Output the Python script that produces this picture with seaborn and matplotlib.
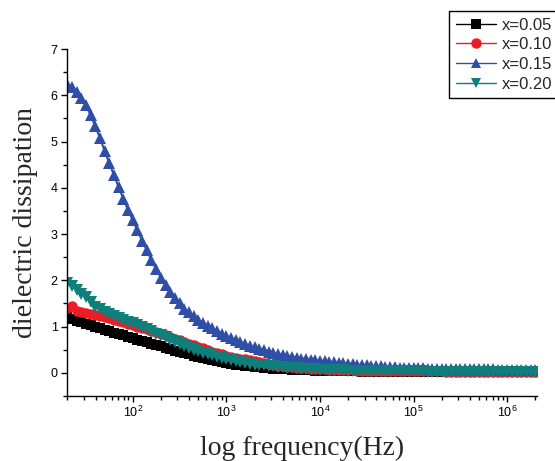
import numpy as np
import pandas as pd
import seaborn as sns
import matplotlib.pyplot as plt
from matplotlib.ticker import MultipleLocator, LogLocator, NullFormatter

# frequency sweep (Hz)
freq = [20, 22.4, 25.1, 28.2, 31.6, 35.5, 39.8, 44.7, 50.1, 56.2, 63.1, 70.8, 79.4, 89.1,
        100, 112, 126, 141, 158, 178, 200, 224, 251, 282, 316, 355, 398, 447, 501, 562, 631, 708, 794, 891,
        1000, 1120, 1260, 1410, 1580, 1780, 2000, 2240, 2510, 2820, 3160, 3550, 3980, 4470, 5010, 5620,
        6310, 7080, 7940, 8910,
        1.0e4, 1.12e4, 1.26e4, 1.41e4, 1.58e4, 1.78e4, 2.0e4, 2.24e4, 2.51e4, 2.82e4, 3.16e4, 3.55e4,
        3.98e4, 4.47e4, 5.01e4, 5.62e4, 6.31e4, 7.08e4, 7.94e4, 8.91e4,
        1.0e5, 1.12e5, 1.26e5, 1.41e5, 1.58e5, 1.78e5, 2.0e5, 2.24e5, 2.51e5, 2.82e5, 3.16e5, 3.55e5,
        3.98e5, 4.47e5, 5.01e5, 5.62e5, 6.31e5, 7.08e5, 7.94e5, 8.91e5,
        1.0e6, 1.12e6, 1.26e6, 1.41e6, 1.58e6, 1.78e6, 2.0e6]

x005 = [1.22, 1.16, 1.12, 1.09, 1.06, 1.03, 0.99, 0.96, 0.93, 0.90, 0.87, 0.84, 0.81, 0.78,
        0.75, 0.72, 0.69, 0.66, 0.63, 0.60, 0.57, 0.54, 0.51, 0.48, 0.45, 0.42, 0.40, 0.37, 0.35, 0.32,
        0.30, 0.28, 0.26, 0.24,
        0.22, 0.20, 0.18, 0.165, 0.15, 0.14, 0.13, 0.12, 0.11, 0.10, 0.09, 0.085, 0.08, 0.075, 0.07, 0.065,
        0.06, 0.056, 0.052, 0.048,
        0.045, 0.042, 0.04, 0.038, 0.036, 0.034, 0.032, 0.031, 0.03, 0.029, 0.028, 0.027, 0.026, 0.025,
        0.024, 0.023, 0.022, 0.021, 0.02, 0.02,
        0.019, 0.019, 0.018, 0.018, 0.017, 0.017, 0.016, 0.016, 0.015, 0.015, 0.015, 0.014, 0.014, 0.014,
        0.013, 0.013, 0.013, 0.012, 0.012, 0.012,
        0.012, 0.011, 0.011, 0.011, 0.01, 0.01, 0.01]

x010 = [1.40, 1.45, 1.34, 1.31, 1.29, 1.27, 1.25, 1.23, 1.20, 1.18, 1.15, 1.12, 1.09, 1.06,
        1.03, 1.00, 0.97, 0.94, 0.91, 0.88, 0.84, 0.81, 0.77, 0.74, 0.70, 0.67, 0.63, 0.60, 0.56, 0.53,
        0.49, 0.46, 0.43, 0.40,
        0.37, 0.35, 0.33, 0.31, 0.29, 0.27, 0.25, 0.23, 0.21, 0.19, 0.17, 0.155, 0.14, 0.13, 0.12, 0.11,
        0.10, 0.095, 0.09, 0.085,
        0.08, 0.075, 0.07, 0.066, 0.062, 0.058, 0.055, 0.052, 0.05, 0.048, 0.046, 0.044, 0.042, 0.04,
        0.039, 0.038, 0.037, 0.036, 0.035, 0.034,
        0.033, 0.032, 0.032, 0.031, 0.031, 0.03, 0.03, 0.029, 0.029, 0.028, 0.028, 0.027, 0.027, 0.026,
        0.026, 0.025, 0.025, 0.024, 0.024, 0.023,
        0.023, 0.022, 0.022, 0.021, 0.021, 0.02, 0.02]

x015 = [6.25, 6.18, 6.08, 5.95, 5.78, 5.57, 5.33, 5.07, 4.80, 4.53, 4.27, 4.01, 3.76, 3.52,
        3.30, 3.08, 2.86, 2.65, 2.44, 2.24, 2.06, 1.90, 1.75, 1.62, 1.50, 1.39, 1.31, 1.22, 1.15, 1.08,
        1.02, 0.96, 0.90, 0.85,
        0.80, 0.75, 0.70, 0.66, 0.62, 0.58, 0.55, 0.52, 0.49, 0.46, 0.43, 0.41, 0.39, 0.37, 0.35, 0.33,
        0.31, 0.30, 0.28, 0.27,
        0.26, 0.25, 0.24, 0.23, 0.22, 0.21, 0.20, 0.19, 0.18, 0.17, 0.16, 0.155, 0.15, 0.14, 0.135, 0.13,
        0.12, 0.115, 0.11, 0.105,
        0.10, 0.098, 0.096, 0.094, 0.092, 0.09, 0.088, 0.086, 0.084, 0.082, 0.08, 0.079, 0.078, 0.077,
        0.076, 0.075, 0.074, 0.073, 0.072, 0.071,
        0.07, 0.069, 0.068, 0.067, 0.066, 0.065, 0.064]

x020 = [1.95, 1.87, 1.79, 1.71, 1.63, 1.53, 1.43, 1.37, 1.32, 1.27, 1.23, 1.19, 1.15, 1.11,
        1.07, 1.03, 0.99, 0.94, 0.90, 0.85, 0.81, 0.77, 0.72, 0.67, 0.62, 0.58, 0.54, 0.50, 0.47, 0.44,
        0.41, 0.38, 0.35, 0.32,
        0.30, 0.28, 0.26, 0.24, 0.22, 0.20, 0.18, 0.17, 0.16, 0.15, 0.14, 0.13, 0.12, 0.11, 0.10, 0.095,
        0.09, 0.085, 0.08, 0.075,
        0.07, 0.066, 0.062, 0.058, 0.055, 0.052, 0.05, 0.048, 0.046, 0.044, 0.042, 0.04, 0.039, 0.038,
        0.037, 0.036, 0.035, 0.034, 0.033, 0.032,
        0.031, 0.03, 0.03, 0.029, 0.029, 0.028, 0.028, 0.027, 0.027, 0.026, 0.026, 0.025, 0.025, 0.024,
        0.024, 0.023, 0.023, 0.022, 0.022, 0.021,
        0.021, 0.02, 0.02, 0.02, 0.019, 0.019, 0.018]

labels = ['x=0.05', 'x=0.10', 'x=0.15', 'x=0.20']
colors = {'x=0.05': '#000000', 'x=0.10': '#ed1c24', 'x=0.15': '#2f4fa6', 'x=0.20': '#0e7f7b'}
markers = {'x=0.05': 's', 'x=0.10': 'o', 'x=0.15': '^', 'x=0.20': 'v'}
msize = {'x=0.05': 6.5, 'x=0.10': 7.5, 'x=0.15': 9, 'x=0.20': 9}

df = pd.concat([pd.DataFrame({'freq': freq, 'loss': v, 'sample': lab})
                for lab, v in zip(labels, [x005, x010, x015, x020])], ignore_index=True)

sns.set_style('ticks')
plt.rcParams['font.family'] = ['Liberation Sans', 'DejaVu Sans']
plt.rcParams['mathtext.default'] = 'regular'

fig = plt.figure(figsize=(5.55, 4.61), dpi=100)
ax = fig.add_axes([0.1202, 0.141, 0.848, 0.7527])

sns.lineplot(data=df, x='freq', y='loss', hue='sample', style='sample', hue_order=labels,
             style_order=labels, palette=colors, markers=markers, dashes=False, estimator=None,
             sort=True, linewidth=1.5, markersize=8, markeredgewidth=0, ax=ax)

# marker size per series so the sweep reads as a solid band
for line, lab in zip(ax.lines, labels):
    line.set_markersize(msize[lab])

ax.set_xscale('log')
ax.set_xlim(19.7, 2.1e6)
ax.set_ylim(-0.5, 7)
ax.yaxis.set_major_locator(MultipleLocator(1))
ax.yaxis.set_minor_locator(MultipleLocator(0.5))
ax.xaxis.set_major_locator(LogLocator(base=10, numticks=20))
ax.xaxis.set_minor_locator(LogLocator(base=10, subs=np.arange(2, 10), numticks=100))
ax.xaxis.set_minor_formatter(NullFormatter())

ax.tick_params(which='major', direction='out', length=4.5, width=1, colors='black', labelsize=9, pad=2)
ax.tick_params(which='minor', direction='out', length=3, width=1, colors='black')
for s in ['top', 'right']:
    ax.spines[s].set_visible(False)
for s in ['left', 'bottom']:
    ax.spines[s].set_linewidth(1)
    ax.spines[s].set_color('black')

ax.set_xlabel('log frequency(Hz)', fontsize=20, family='Liberation Serif', labelpad=11)
ax.set_ylabel('dielectric dissipation', fontsize=20, family='Liberation Serif', labelpad=9)

handles, labs = ax.get_legend_handles_labels()
ax.get_legend().remove()
for h in handles:
    h.set_markersize(7.5)
    h.set_linewidth(1)
leg = fig.legend(handles, labs, loc='upper left', bbox_to_anchor=(449 / 555, 1 - 11 / 461),
                 fontsize=12, frameon=True, fancybox=False, framealpha=1, borderaxespad=0,
                 borderpad=0.4, handlelength=2.4, handletextpad=0.35, labelspacing=0.28)
leg.get_frame().set_edgecolor('black')
leg.get_frame().set_linewidth(1)

plt.savefig('out.png', dpi=100)
